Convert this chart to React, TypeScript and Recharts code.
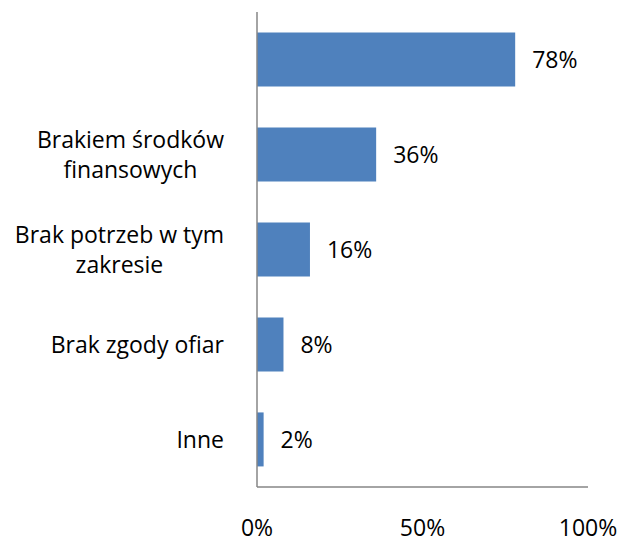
import React from "react";
import { BarChart, Bar, XAxis, YAxis, LabelList } from "recharts";

const categories = [
  "",
  "Brakiem środków\nfinansowych",
  "Brak potrzeb w tym\nzakresie",
  "Brak zgody ofiar",
  "Inne",
];
const values = [78, 36, 16, 8, 2];
const xTicks = [0, 50, 100];

const data = categories.map((c, i) => ({ name: c, value: values[i] }));

const FONT = "'Open Sans', sans-serif";
const FONT_SIZE = 23;
const LINE_H = 30;

let ctx: CanvasRenderingContext2D | null = null;
function measure(t: string): number {
  if (!ctx) {
    const c = document.createElement("canvas");
    ctx = c.getContext("2d");
  }
  if (!ctx) return t.length * FONT_SIZE * 0.5;
  ctx.font = `${FONT_SIZE}px 'Open Sans'`;
  return ctx.measureText(t).width;
}

const CategoryTick = (props: any) => {
  const { x, y, payload } = props;
  const text: string = payload.value || "";
  if (!text) return null;
  const lines = text.split("\n");
  const blockW = Math.max(...lines.map(measure));
  const cx = x - blockW / 2;
  const startY = y - ((lines.length - 1) * LINE_H) / 2;
  return (
    <g>
      {lines.map((l, i) => (
        <text
          key={i}
          x={cx}
          y={startY + i * LINE_H}
          dy="0.35em"
          textAnchor="middle"
          fontFamily={FONT}
          fontSize={FONT_SIZE}
          fill="#000"
        >
          {l}
        </text>
      ))}
    </g>
  );
};

export default function App() {
  return (
    <div style={{ position: "absolute", left: 0, top: 0, background: "#fff" }}>
      <BarChart
        width={636}
        height={542}
        data={data}
        layout="vertical"
        margin={{ top: 12, right: 48, bottom: 0, left: 0 }}
        barCategoryGap="21.5%"
      >
        <XAxis
          type="number"
          domain={[0, 100]}
          ticks={xTicks}
          tickFormatter={(v) => `${v}%`}
          tickLine={false}
          tickSize={0}
          tickMargin={33}
          height={55}
          axisLine={{ stroke: "#868686", strokeWidth: 1.5 }}
          tick={{ fill: "#000", fontFamily: FONT, fontSize: FONT_SIZE }}
          interval={0}
        />
        <YAxis
          type="category"
          dataKey="name"
          width={257}
          tickLine={false}
          tickSize={0}
          tickMargin={33}
          axisLine={{ stroke: "#868686", strokeWidth: 1.5 }}
          tick={<CategoryTick />}
          interval={0}
        />
        <Bar dataKey="value" fill="#4F81BD" isAnimationActive={false}>
          <LabelList
            dataKey="value"
            position="right"
            offset={17}
            formatter={(v: any) => `${v}%`}
            fill="#000"
            fontFamily={FONT}
            fontSize={FONT_SIZE}
          />
        </Bar>
      </BarChart>
    </div>
  );
}
